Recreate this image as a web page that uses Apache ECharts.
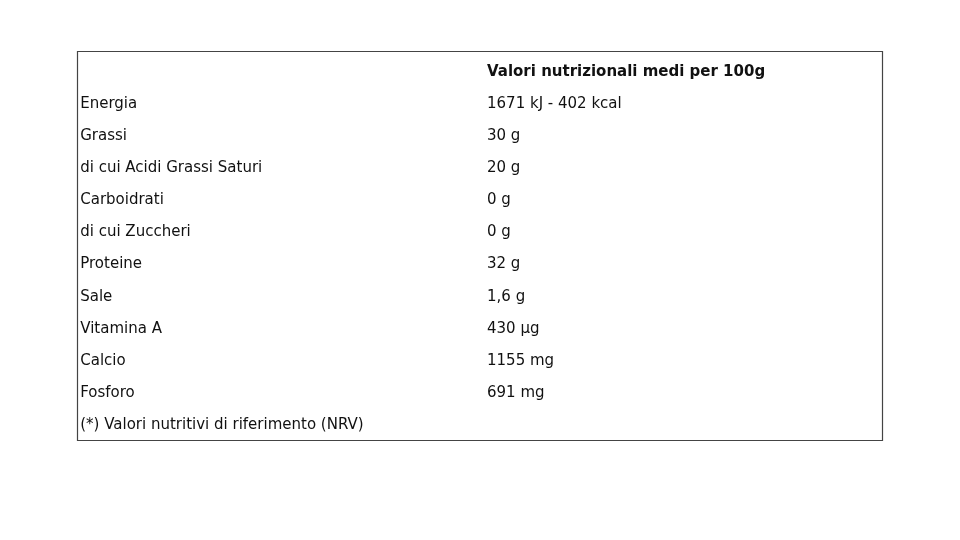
<!DOCTYPE html>
<html><head><meta charset="utf-8">
<script src="https://cdn.jsdelivr.net/npm/echarts@6/dist/echarts.min.js"></script>
<style>html,body{margin:0;background:#fff}#c{width:960px;height:540px}</style>
</head><body><div id="c"></div>
<script>
const header = "Valori nutrizionali medi per 100g";
const nutrients = ["Energia","Grassi","di cui Acidi Grassi Saturi","Carboidrati","di cui Zuccheri","Proteine","Sale","Vitamina A","Calcio","Fosforo"];
const amounts = ["1671 kJ - 402 kcal","30 g","20 g","0 g","0 g","32 g","1,6 g","430 µg","1155 mg","691 mg"];
const footnote = "(*) Valori nutritivi di riferimento (NRV)";

const rows = ["h"].concat(nutrients.map((_, i) => "r" + i)).concat(["f"]);
const cells = [[0.5087, 0, header, true]];
nutrients.forEach((n, i) => { cells.push([0.004, i + 1, n, false]); cells.push([0.5087, i + 1, amounts[i], false]); });
cells.push([0.004, rows.length - 1, footnote, false]);

const chart = echarts.init(document.getElementById('c'));
chart.setOption({
  animation: false,
  grid: { left: 77, right: 77, top: 56, bottom: 99 },
  xAxis: { type: 'value', min: 0, max: 1, show: false },
  yAxis: { type: 'category', data: rows, inverse: true, show: false },
  graphic: [{ type: 'rect', shape: { x: 77.5, y: 51.5, width: 805, height: 389 },
    style: { fill: 'none', stroke: '#444', lineWidth: 1.2 } }],
  series: [{
    type: 'custom',
    data: cells,
    renderItem: function (params, api) {
      const p = api.coord([api.value(0), api.value(1)]);
      const d = cells[params.dataIndex];
      return { type: 'text', x: p[0], y: p[1],
        style: { text: d[2], fill: '#111', fontFamily: 'DejaVu Sans', fontSize: 15,
          fontWeight: d[3] ? 'bold' : 'normal', verticalAlign: 'middle', align: 'left' } };
    }
  }]
});
</script></body></html>
